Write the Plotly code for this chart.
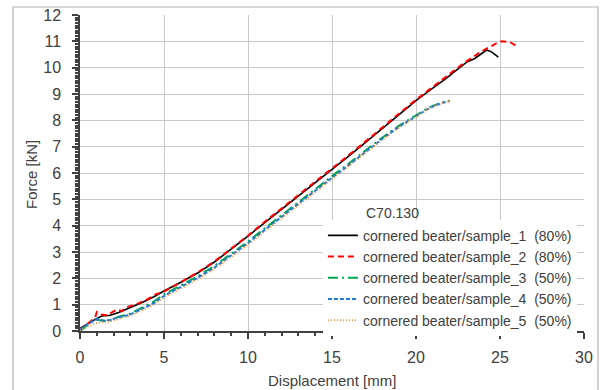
import plotly.graph_objects as go

# ---- data ----
s1_x = [0, 0.5, 0.9, 1.3, 1.8, 2.3, 3.0, 3.7, 4.4, 5.0, 6.0, 7.0, 8.0, 9.0, 10.0, 11.0, 12.0, 13.0, 14.0, 15.0, 16.0, 17.0, 18.0, 19.0, 20.0, 21.0, 21.8, 22.5, 23.0, 23.5, 24.2, 24.5, 24.9]
s1_y = [0.1, 0.3, 0.44, 0.57, 0.6, 0.7, 0.88, 1.08, 1.3, 1.52, 1.85, 2.2, 2.62, 3.1, 3.6, 4.12, 4.62, 5.12, 5.62, 6.12, 6.64, 7.16, 7.7, 8.22, 8.75, 9.22, 9.59, 9.95, 10.2, 10.35, 10.67, 10.6, 10.4]

s2_x = [0, 0.5, 0.9, 1.0, 1.2, 1.6, 2.2, 2.5, 2.7, 3.3, 4.0, 4.5, 5.0, 6.0, 7.0, 8.0, 9.0, 10.0, 11.0, 12.0, 13.0, 14.0, 15.0, 16.0, 17.0, 18.0, 19.0, 20.0, 21.0, 21.8, 22.8, 23.8, 24.8, 25.1, 25.6, 26.1]
s2_y = [0.05, 0.3, 0.5, 0.72, 0.63, 0.6, 0.82, 0.75, 0.89, 1.0, 1.2, 1.39, 1.5, 1.85, 2.22, 2.64, 3.12, 3.62, 4.15, 4.65, 5.15, 5.65, 6.15, 6.68, 7.2, 7.74, 8.26, 8.78, 9.26, 9.65, 10.15, 10.58, 10.93, 11.0, 10.97, 10.77]

s3_x = [0, 0.5, 0.9, 1.4, 1.7, 2.3, 2.9, 3.7, 4.4, 5.0, 6.0, 7.0, 8.0, 9.0, 10.0, 11.0, 12.0, 13.0, 14.0, 15.0, 16.0, 17.0, 18.0, 19.0, 20.0, 20.8, 21.5, 22.0]
s3_y = [0.0, 0.25, 0.44, 0.38, 0.38, 0.54, 0.63, 0.89, 1.12, 1.39, 1.72, 2.08, 2.47, 2.92, 3.4, 3.9, 4.4, 4.9, 5.4, 5.88, 6.36, 6.85, 7.35, 7.8, 8.18, 8.5, 8.67, 8.75]

s4_x = [0, 0.5, 1.0, 1.4, 1.8, 2.3, 2.9, 3.7, 4.4, 5.0, 6.0, 7.0, 8.0, 9.0, 10.0, 11.0, 12.0, 13.0, 14.0, 15.0, 16.0, 17.0, 18.0, 19.0, 20.0, 20.8, 21.5, 22.0]
s4_y = [0.05, 0.28, 0.45, 0.4, 0.42, 0.52, 0.6, 0.84, 1.06, 1.33, 1.66, 2.02, 2.41, 2.86, 3.34, 3.84, 4.34, 4.84, 5.34, 5.82, 6.3, 6.8, 7.3, 7.76, 8.14, 8.47, 8.65, 8.73]

s5_x = [0, 0.5, 1.0, 1.3, 1.8, 2.3, 2.9, 3.7, 4.4, 5.0, 6.0, 7.0, 8.0, 9.0, 10.0, 11.0, 12.0, 13.0, 14.0, 15.0, 16.0, 17.0, 18.0, 19.0, 20.0, 20.8, 21.5, 22.0]
s5_y = [0.0, 0.2, 0.3, 0.32, 0.36, 0.46, 0.56, 0.78, 1.0, 1.27, 1.6, 1.96, 2.35, 2.8, 3.28, 3.78, 4.28, 4.78, 5.28, 5.77, 6.26, 6.76, 7.26, 7.73, 8.12, 8.46, 8.65, 8.73]

names = [
    "cornered beater/sample_1\u00a0 (80%)",
    "cornered beater/sample_2\u00a0 (80%)",
    "cornered beater/sample_3\u00a0 (50%)",
    "cornered beater/sample_4\u00a0 (50%)",
    "cornered beater/sample_5\u00a0 (50%)",
]
legend_title = "C70.130"
x_title = "Displacement [mm]"
y_title = "Force [kN]"
x_ticks = [0, 5, 10, 15, 20, 25, 30]
y_ticks = list(range(0, 13))

series = [(s1_x, s1_y), (s2_x, s2_y), (s3_x, s3_y), (s4_x, s4_y), (s5_x, s5_y)]
styles = [
    dict(color="#000000", dash="solid", width=1.6),
    dict(color="#ff0000", dash="6px,4px", width=2),
    dict(color="#00a650", dash="10px,4px,2px,4px", width=2),
    dict(color="#1f77d4", dash="4px,2px", width=2),
    dict(color="#f79646", dash="1px,2px", width=2),
]

FONT = "Liberation Sans, Arial, sans-serif"
TXT = "#404040"

fig = go.Figure()
for (xs, ys), nm, st in zip(series, names, styles):
    fig.add_trace(go.Scatter(x=xs, y=ys, mode="lines", name=nm, line=st))

fig.update_layout(
    width=605, height=390,
    margin=dict(l=80, r=21, t=15, b=59, autoexpand=False),
    paper_bgcolor="white", plot_bgcolor="white",
    font=dict(family=FONT, size=15, color=TXT),
    showlegend=True,
    legend=dict(
        x=0.482, y=0.352, xanchor="left", yanchor="top",
        bgcolor="white", borderwidth=0,
        font=dict(family=FONT, size=14, color=TXT),
        tracegroupgap=0, itemwidth=30,
    ),
    xaxis=dict(
        range=[0, 30], tickvals=x_ticks, ticks="outside", ticklen=6, tickwidth=1.5,
        tickcolor="#404040",
        minor=dict(dtick=1, ticks="outside", ticklen=3, tickcolor="#404040", showgrid=False),
        showgrid=True, gridcolor="#c8c8c8", gridwidth=1,
        showline=True, linecolor="#404040", linewidth=1.5,
        zeroline=False, ticklabelstandoff=5,
        tickfont=dict(size=16, color=TXT), automargin=False,
    ),
    yaxis=dict(
        range=[0, 12], tickvals=y_ticks, ticks="outside", ticklen=6, tickwidth=1.5,
        tickcolor="#404040",
        minor=dict(dtick=0.1, ticks="outside", ticklen=3, tickcolor="#404040", showgrid=False),
        showgrid=True, gridcolor="#c8c8c8", gridwidth=1,
        showline=True, linecolor="#404040", linewidth=1.5,
        zeroline=False, ticklabelstandoff=8,
        tickfont=dict(size=16, color=TXT), automargin=False,
    ),
    shapes=[
        dict(type="rect", xref="paper", yref="paper",
             x0=(13 - 80) / 504, x1=(598 - 80) / 504,
             y0=(331 - 400) / 316, y1=(331 - 7) / 316,
             line=dict(color="#b4b4b4", width=1.2), layer="above"),
    ],
    annotations=[
        dict(text=legend_title, xref="paper", yref="paper",
             x=(364 - 80) / 504, y=(331 - 213) / 316, xanchor="left", yanchor="middle",
             showarrow=False, font=dict(family=FONT, size=14, color=TXT)),
        dict(text=x_title, xref="paper", yref="paper",
             x=0.5, y=(331 - 380) / 316, xanchor="center", yanchor="middle",
             showarrow=False, font=dict(family=FONT, size=15, color=TXT)),
        dict(text=y_title, xref="paper", yref="paper", textangle=-90,
             x=(31 - 80) / 504, y=(331 - 175) / 316, xanchor="center", yanchor="middle",
             showarrow=False, font=dict(family=FONT, size=15, color=TXT)),
    ],
)

fig.write_html("out.html")
